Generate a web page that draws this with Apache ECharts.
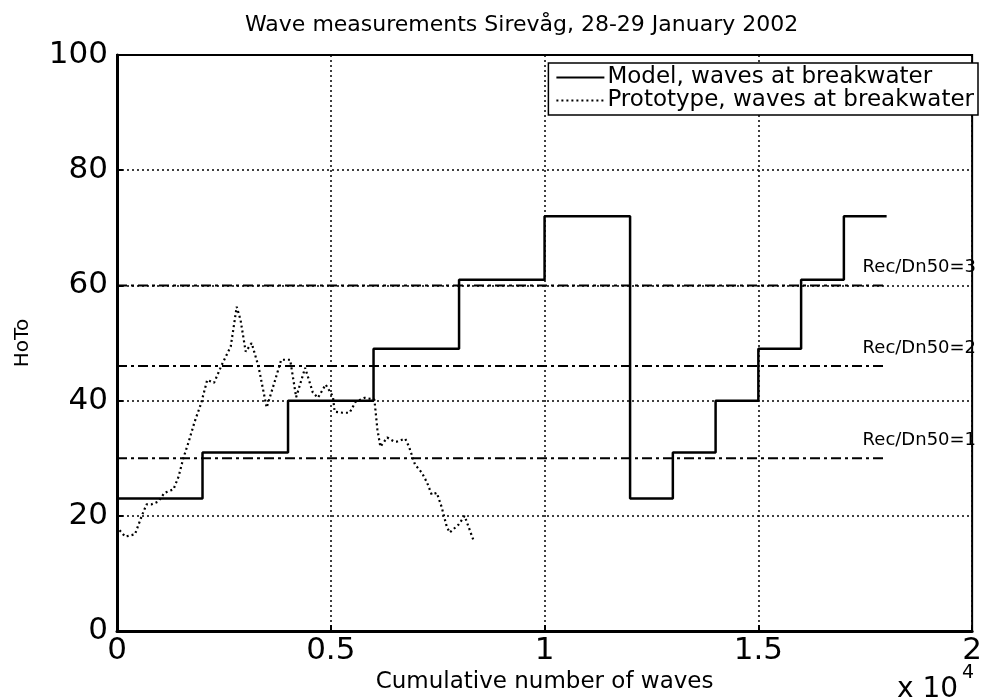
<!DOCTYPE html>
<html>
<head>
<meta charset="utf-8">
<script src="https://cdn.jsdelivr.net/npm/echarts@6/dist/echarts.min.js"></script>
<style>
  html, body { margin: 0; padding: 0; background: #fff; }
  #chart { width: 985px; height: 699px; }
</style>
</head>
<body>
<div id="chart"></div>
<script>
  // model steps: value holds from x[i] to x[i+1]
  var modelX = [0, 2000, 4000, 6000, 8000, 10000, 12000, 13000, 14000, 15000, 16000, 17000, 18000];
  var modelY = [23, 31, 40, 49, 61, 72, 23, 31, 40, 49, 61, 72, 72];

  var protoX = [60, 190, 420, 580, 690, 810, 970, 1110, 1320, 1440, 1550, 1670, 1810, 1970, 2110, 2270,
    2450, 2660, 2800, 2890, 3010, 3150, 3310, 3500, 3700, 3840, 4050, 4190, 4400, 4580, 4700, 4880,
    5050, 5090, 5280, 5440, 5580, 5790, 6020, 6090, 6160, 6320, 6480, 6550, 6740, 6830, 6970, 7130,
    7250, 7360, 7480, 7590, 7710, 7780, 7990, 8130, 8330];
  var protoY = [17.5, 16.4, 16.8, 20, 22, 22, 22.5, 24, 24.6, 26.8, 30, 32.7, 36.2, 39.6, 43.6, 43.1,
    46.2, 49.4, 56.3, 54, 48.5, 50, 45.9, 38.8, 43.6, 47.1, 47.1, 40.6, 45.7, 41.4, 40.5, 42.8,
    40.7, 38.1, 37.9, 37.9, 39.8, 40.5, 40.2, 35, 32, 33.6, 32.9, 32.9, 33.4, 32, 28.9, 27.5,
    25.8, 23.7, 24, 21.6, 18.2, 17.1, 18.5, 20, 15.9];

  // recession levels
  var recLevels = [30, 46, 60];
  var recNames = ['Rec/Dn50=1', 'Rec/Dn50=2', 'Rec/Dn50=3'];
  var recStart = 0;
  var recEnd = 18000;

  var font = 'DejaVu Sans';

  function zip(xs, ys) {
    return xs.map(function (x, i) { return [x, ys[i]]; });
  }

  var recSeries = recLevels.map(function (v, i) {
    return {
      name: recNames[i],
      type: 'line',
      data: [[recStart, v], [recEnd, v]],
      symbol: 'none',
      lineStyle: { color: '#000', width: 2, type: [10, 4, 3, 4] },
      endLabel: {
        show: true,
        formatter: recNames[i],
        offset: [-32, -18],
        fontFamily: font,
        fontSize: 18,
        color: '#000'
      },
      silent: true,
      z: 2
    };
  });

  var chart = echarts.init(document.getElementById('chart'));
  var option = {
    animation: false,
    backgroundColor: '#fff',
    title: {
      text: 'Wave measurements Sirevåg, 28-29 January 2002',
      left: 240,
      top: 9,
      textStyle: { fontFamily: font, fontSize: 22, fontWeight: 'normal', color: '#000' }
    },
    legend: {
      data: ['Model, waves at breakwater', 'Prototype, waves at breakwater'],
      orient: 'vertical',
      right: 7,
      top: 63,
      backgroundColor: '#fff',
      borderColor: '#000',
      borderWidth: 1.5,
      borderRadius: 0,
      padding: [3, 4, 3, 7],
      itemGap: 0,
      itemWidth: 48,
      itemHeight: 20,
      itemStyle: { opacity: 0 },
      textStyle: { fontFamily: font, fontSize: 23, color: '#000', padding: [0, 0, 0, -2] }
    },
    grid: {
      left: 117,
      right: 4,
      top: 55,
      bottom: 67,
      show: true,
      borderColor: '#000',
      borderWidth: 2
    },
    xAxis: {
      type: 'value',
      min: 0,
      max: 20000,
      interval: 5000,
      name: 'Cumulative number of waves',
      nameLocation: 'middle',
      nameGap: 33,
      nameTextStyle: { fontFamily: font, fontSize: 23, color: '#000' },
      axisLine: { show: true, lineStyle: { color: '#000', width: 3 } },
      axisTick: { show: true, inside: true, length: 6, lineStyle: { color: '#000', width: 2 } },
      axisLabel: {
        margin: 4,
        fontFamily: font,
        fontSize: 31,
        color: '#000',
        formatter: function (v) { return String(v / 10000); }
      },
      splitLine: { show: true, lineStyle: { color: '#000', width: 1.5, type: [2, 3] } }
    },
    yAxis: {
      type: 'value',
      min: 0,
      max: 100,
      interval: 20,
      name: 'HoTo',
      nameLocation: 'middle',
      nameGap: 84,
      nameRotate: 90,
      nameTextStyle: { fontFamily: font, fontSize: 20, color: '#000' },
      axisLine: { show: true, lineStyle: { color: '#000', width: 3 } },
      axisTick: { show: true, inside: true, length: 6, lineStyle: { color: '#000', width: 2 } },
      axisLabel: { margin: 9, fontFamily: font, fontSize: 31, color: '#000' },
      splitLine: { show: true, lineStyle: { color: '#000', width: 1.5, type: [2, 3] } }
    },
    graphic: [
      {
        type: 'text',
        left: 897,
        top: 676,
        style: { text: 'x 10', fontFamily: font, fontSize: 28, fill: '#000' }
      },
      {
        type: 'text',
        left: 962,
        top: 664,
        style: { text: '4', fontFamily: font, fontSize: 19, fill: '#000' }
      }
    ],
    series: recSeries.concat([
      {
        name: 'Model, waves at breakwater',
        type: 'line',
        step: 'end',
        data: zip(modelX, modelY),
        symbol: 'none',
        itemStyle: { color: '#000' },
        lineStyle: { color: '#000', width: 2.5, type: 'solid' },
        z: 4
      },
      {
        name: 'Prototype, waves at breakwater',
        type: 'line',
        data: zip(protoX, protoY),
        symbol: 'none',
        itemStyle: { color: '#000' },
        lineStyle: { color: '#000', width: 2.2, type: [2, 3] },
        z: 3
      }
    ])
  };
  chart.setOption(option);
</script>
</body>
</html>
